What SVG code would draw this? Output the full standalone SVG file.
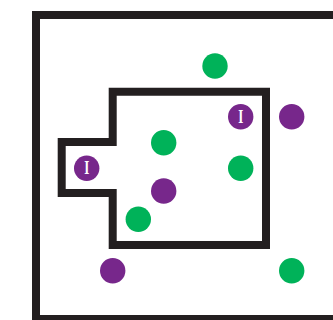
<svg xmlns="http://www.w3.org/2000/svg" width="333" height="320" viewBox="0 0 333 320">
<style>
.wall{fill:none;stroke:#231f20;stroke-width:8;stroke-linejoin:miter}
.g{fill:#00b259}
.p{fill:#77278b}
.lbl{fill:#fff;font-family:"Liberation Serif",serif;font-weight:bold;font-size:18.5px;text-anchor:middle}
</style>
<rect width="333" height="320" fill="#fff"/>
<g id="walls">
<rect class="wall" x="36" y="15" width="320" height="304"/>
<path class="wall" d="M112.7,245 L112.7,193 L61.7,193 L61.7,142 L112.7,142 L112.7,91.7 L266,91.7 L266,245 Z"/>
</g>
<g id="n1"><circle class="g" cx="215" cy="66" r="12.7"/></g>
<g id="n2"><circle class="p" cx="291.7" cy="116.7" r="12.7"/></g>
<g id="n3"><circle class="p" cx="240.7" cy="116.7" r="12.7"/><text class="lbl" transform="translate(240.7,122.8) scale(0.7,1)">I</text></g>
<g id="n4"><circle class="g" cx="163.7" cy="142.7" r="12.7"/></g>
<g id="n5"><circle class="p" cx="86.7" cy="168.3" r="12.7"/><text class="lbl" transform="translate(86.7,174.4) scale(0.7,1)">I</text></g>
<g id="n6"><circle class="g" cx="240.7" cy="168.3" r="12.7"/></g>
<g id="n7"><circle class="p" cx="163.7" cy="191" r="12.7"/></g>
<g id="n8"><circle class="g" cx="138.3" cy="219.3" r="12.7"/></g>
<g id="n9"><circle class="p" cx="112.7" cy="270.7" r="12.7"/></g>
<g id="n10"><circle class="g" cx="291.7" cy="270.7" r="12.7"/></g>
</svg>
